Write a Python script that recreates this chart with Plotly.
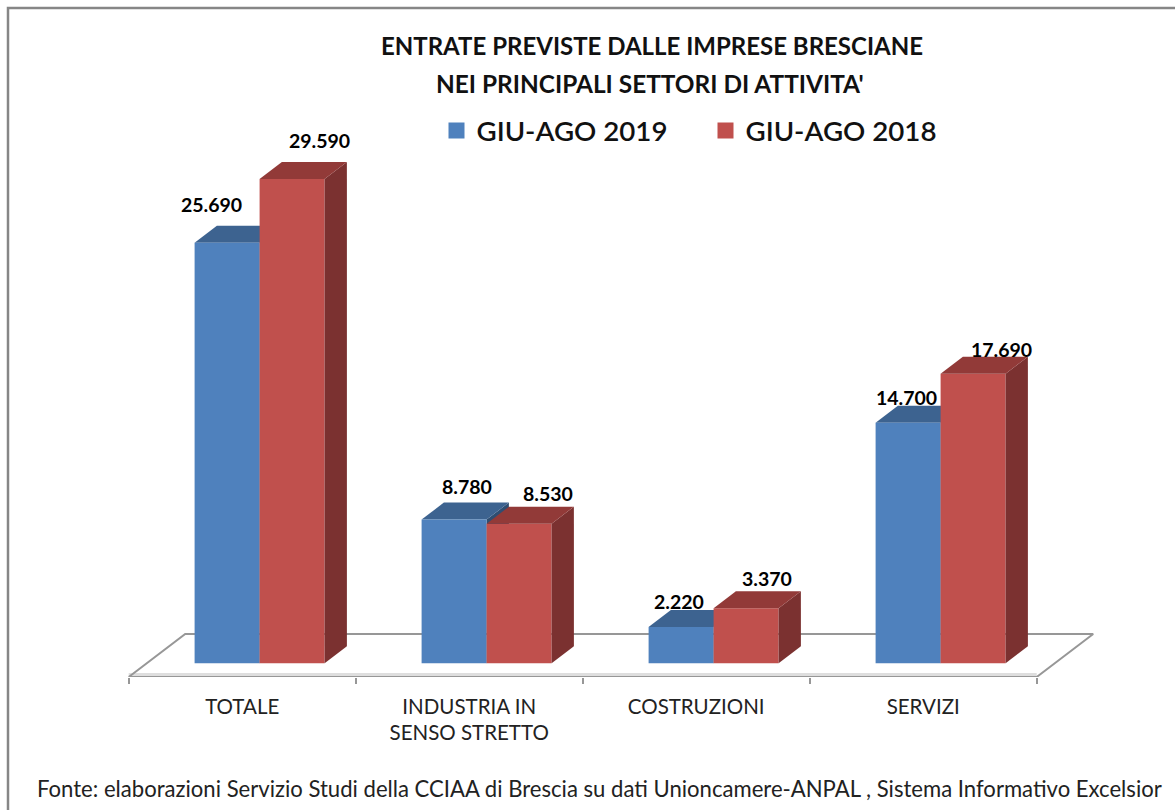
import plotly.graph_objects as go

# ---- data ----
categories = ["TOTALE", "INDUSTRIA IN<br>SENSO STRETTO", "COSTRUZIONI", "SERVIZI"]
values_2019 = [25690, 8780, 2220, 14700]
values_2018 = [29590, 8530, 3370, 17690]
series_2019 = "GIU-AGO 2019"
series_2018 = "GIU-AGO 2018"
title_line1 = "<b>ENTRATE PREVISTE DALLE IMPRESE BRESCIANE</b>"
title_line2 = "<b>NEI PRINCIPALI SETTORI DI ATTIVITA'</b>"
source_text = "Fonte: elaborazioni Servizio Studi della CCIAA di Brescia su dati Unioncamere-ANPAL , Sistema Informativo Excelsior"

# ---- geometry / scale (pixels) ----
W, H = 1175, 810
PLOT_BOTTOM = 677.0
ZERO_PX = 663.3
PX_PER_UNIT = 0.016367
CAT_PX = 227.0
CAT0_PX = 242.2
BAR_W_PX = 65.0
BAR_LEFT_PX = -47.6
DEPTH_X_PX = 22.3
DEPTH_Y_PX = 17.0

xr = [(0 - CAT0_PX) / CAT_PX, (W - CAT0_PX) / CAT_PX]
yr = [(ZERO_PX - PLOT_BOTTOM) / PX_PER_UNIT, ZERO_PX / PX_PER_UNIT]
bw = BAR_W_PX / CAT_PX
off_blue = BAR_LEFT_PX / CAT_PX
off_red = off_blue + bw
dx = DEPTH_X_PX / CAT_PX
dy = DEPTH_Y_PX / PX_PER_UNIT
pos = list(range(len(categories)))

BLUE, BLUE_TOP, BLUE_SIDE = "#4F81BD", "#3D6390", "#2F4E72"
RED, RED_TOP, RED_SIDE = "#C0504D", "#923A38", "#7B3130"
FONT = "Lato"


def paper_y(px):
    """Pixel row from the page top, as a paper fraction of the plot area."""
    return 1 - px / PLOT_BOTTOM


def faces(offset, values, color_top, color_side, xa, ya):
    out = []
    for p, v in zip(pos, values):
        left = p + offset
        right = left + bw
        out.append(go.Scatter(x=[right, right + dx, right + dx, right, right],
                              y=[0, dy, v + dy, v, 0], mode="lines", fill="toself",
                              fillcolor=color_side, line=dict(width=0), hoverinfo="skip",
                              showlegend=False, xaxis=xa, yaxis=ya))
        out.append(go.Scatter(x=[left, right, right + dx, left + dx, left],
                              y=[v, v, v + dy, v + dy, v], mode="lines", fill="toself",
                              fillcolor=color_top, line=dict(width=0), hoverinfo="skip",
                              showlegend=False, xaxis=xa, yaxis=ya))
    return out


fig = go.Figure()

# floor (base subplot, behind everything)
n = len(pos)
fx0, fx1 = -0.5, n - 0.5
fdx = 56.5 / CAT_PX
fback = 43.0 / PX_PER_UNIT
ffront = (ZERO_PX - PLOT_BOTTOM) / PX_PER_UNIT
band = 2.6 / PX_PER_UNIT
fig.add_trace(go.Scatter(x=[fx0, fx1], y=[ffront + band, ffront + band], mode="lines",
                         line=dict(color="#DEDEDE", width=3), hoverinfo="skip", showlegend=False))
fig.add_trace(go.Scatter(x=[fx0, fx0 + fdx, fx1 + fdx, fx1, fx0],
                         y=[ffront, ffront + fback, ffront + fback, ffront, ffront],
                         mode="lines", line=dict(color="#979797", width=2),
                         hoverinfo="skip", showlegend=False, cliponaxis=False))

# rear series' depth faces
for tr in faces(off_blue, values_2019, BLUE_TOP, BLUE_SIDE, "x", "y"):
    fig.add_trace(tr)

# front faces
fig.add_trace(go.Bar(x=pos, y=values_2019, width=bw, offset=off_blue, marker=dict(color=BLUE, line=dict(width=0)),
                     name=series_2019, showlegend=False, xaxis="x2", yaxis="y2"))
fig.add_trace(go.Bar(x=pos, y=values_2018, width=bw, offset=off_red, marker=dict(color=RED, line=dict(width=0)),
                     name=series_2018, showlegend=False, xaxis="x2", yaxis="y2"))
for tr in faces(off_red, values_2018, RED_TOP, RED_SIDE, "x2", "y2"):
    fig.add_trace(tr)

# legend entries
for name, color in ((series_2019, BLUE), (series_2018, RED)):
    fig.add_trace(go.Scatter(x=[None], y=[None], mode="markers", name=name,
                             marker=dict(symbol="square", size=16, color=color)))

# value labels (shift relative to the bar top centre, px)
labels_dx_2019 = [-16, 13, -2, -2]
labels_dy_2019 = [38, 33, 25, 25]
labels_dx_2018 = [27, 29, 21, 28]
labels_dy_2018 = [39, 30, 30, 24]
annotations = []
for vals, off, ldx, ldy in ((values_2019, off_blue, labels_dx_2019, labels_dy_2019),
                            (values_2018, off_red, labels_dx_2018, labels_dy_2018)):
    for p, v, sx, sy in zip(pos, vals, ldx, ldy):
        annotations.append(dict(x=p + off + bw / 2, y=v, xref="x2", yref="y2",
                                text=f"<b>{v:,}</b>".replace(",", "."), showarrow=False,
                                xshift=sx, yshift=sy, xanchor="center", yanchor="middle",
                                font=dict(family=FONT, size=19.5, color="#000000")))

annotations.append(dict(x=650 / W, y=paper_y(83), xref="paper", yref="paper",
                        text=title_line2, showarrow=False, xanchor="center", yanchor="middle",
                        font=dict(family=FONT, size=24.4, color="#111111")))
annotations.append(dict(x=599.5 / W, y=paper_y(788), xref="paper", yref="paper",
                        text=source_text, showarrow=False, xanchor="center", yanchor="middle",
                        font=dict(family=FONT, size=22.1, color="#222222")))

FRAME = 8 / W
shapes = [dict(type="path", xref="paper", yref="paper",
               path=f"M {FRAME} {paper_y(H)} L {FRAME} {paper_y(8)} L 1 {paper_y(8)}",
               line=dict(color="#868686", width=2.5))]

axis_off = dict(visible=False, fixedrange=True)
fig.update_layout(
    width=W, height=H, autosize=False,
    margin=dict(l=0, r=0, t=0, b=H - PLOT_BOTTOM, pad=0),
    paper_bgcolor="white", plot_bgcolor="rgba(0,0,0,0)",
    barmode="overlay",
    title=dict(text=title_line1, x=652 / W, xanchor="center", y=1 - 47 / H, yanchor="middle",
               font=dict(family=FONT, size=24, color="#111111")),
    xaxis=dict(range=xr, tickmode="array", tickvals=pos, ticktext=categories, ticks="",
               showgrid=False, zeroline=False, showline=False, ticklabelstandoff=15,
               tickfont=dict(family=FONT, size=20.5, color="#222222"),
               minor=dict(tickmode="array", tickvals=[p - 0.5 for p in pos] + [n - 0.5], ticks="outside",
                          ticklen=6, tickwidth=2, tickcolor="#979797", showgrid=False)),
    yaxis=dict(range=yr, visible=False),
    xaxis2=dict(range=xr, overlaying="x", **axis_off),
    yaxis2=dict(range=yr, overlaying="y", **axis_off),
    legend=dict(orientation="h", x=436.5 / W, y=paper_y(131), xanchor="left", yanchor="middle",
                font=dict(family=FONT, size=27.7, color="#111111", weight=600), bgcolor="rgba(0,0,0,0)",
                itemwidth=30, tracegroupgap=0, entrywidth=224, entrywidthmode="pixels"),
    annotations=annotations, shapes=shapes, showlegend=True,
)

fig.write_html("out.html", config=dict(displayModeBar=False),
               post_script="document.body.style.margin='0';document.body.style.overflow='hidden';")
